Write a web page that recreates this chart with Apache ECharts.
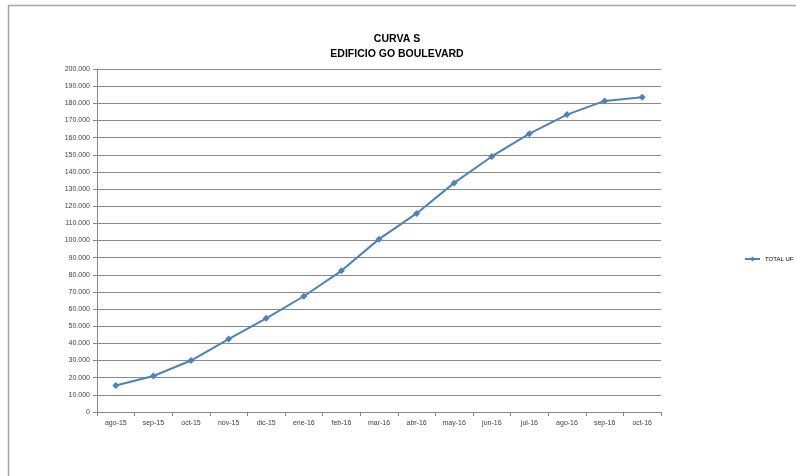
<!DOCTYPE html>
<html>
<head>
<meta charset="utf-8">
<script src="https://cdn.jsdelivr.net/npm/echarts@6/dist/echarts.min.js"></script>
<style>
  html, body { margin: 0; padding: 0; background: #fff; }
  #chart { width: 796px; height: 476px; }
</style>
</head>
<body>
<div id="chart"></div>
<script>
// Monthly cumulative progress (UF)
const months = ['ago-15','sep-15','oct-15','nov-15','dic-15','ene-16','feb-16','mar-16',
                'abr-16','may-16','jun-16','jul-16','ago-16','sep-16','oct-16'];
const totalUF = [15400, 21000, 30000, 42500, 54600, 67500, 82300, 100800,
                 115800, 133600, 149000, 162300, 173400, 181400, 183500];
const yMax = 200000;
const yStep = 10000;

// Thousands separated with dots
function fmt(v) {
  return String(Math.round(v)).replace(/\B(?=(\d{3})+(?!\d))/g, '.');
}

const chart = echarts.init(document.getElementById('chart'), null, { renderer: 'canvas' });
const font = '"Liberation Sans Narrow", "Liberation Sans", Arial, sans-serif';

chart.setOption({
  animation: false,
  backgroundColor: '#ffffff',
  graphic: [{
    type: 'polyline',
    shape: { points: [[8.5, 476], [8.5, 5.5], [800, 5.5]] },
    style: { stroke: '#a6a6a6', lineWidth: 1.5, fill: null },
    silent: true
  }],
  title: {
    text: 'CURVA S\nEDIFICIO GO BOULEVARD',
    left: 392,
    top: 27,
    textAlign: 'center',
    textStyle: { fontFamily: font, fontSize: 10.5, fontWeight: 'bold', color: '#000', lineHeight: 15 }
  },
  legend: {
    data: ['TOTAL UF'],
    left: 744,
    top: 256,
    padding: 0,
    itemWidth: 15,
    itemHeight: 6,
    itemGap: 2,
    textStyle: { fontFamily: font, fontSize: 6, color: '#000' }
  },
  grid: { left: 97, right: 135, top: 69, bottom: 64, containLabel: false },
  xAxis: {
    type: 'category',
    data: months,
    boundaryGap: true,
    axisLine: { lineStyle: { color: '#868686', width: 1 } },
    axisTick: { show: true, length: 4, lineStyle: { color: '#868686' } },
    axisLabel: { fontFamily: font, fontSize: 7, color: '#404040', margin: 8, interval: 0 },
    splitLine: { show: false }
  },
  yAxis: {
    type: 'value',
    min: 0,
    max: yMax,
    interval: yStep,
    axisLine: { show: true, lineStyle: { color: '#868686', width: 1 } },
    axisTick: { show: true, length: 4, lineStyle: { color: '#868686' } },
    axisLabel: { fontFamily: font, fontSize: 7, color: '#404040', margin: 7, formatter: fmt },
    splitLine: { show: true, lineStyle: { color: '#8a8a8a', width: 1 } }
  },
  series: [{
    name: 'TOTAL UF',
    type: 'line',
    data: totalUF,
    symbol: 'diamond',
    symbolSize: 7,
    itemStyle: { color: '#4f81bd' },
    lineStyle: { color: '#4f81bd', width: 2 },
    smooth: false
  }]
});
</script>
</body>
</html>
